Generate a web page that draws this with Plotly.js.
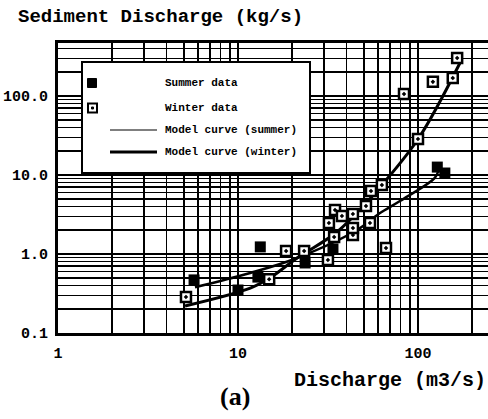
<!DOCTYPE html>
<html>
<head>
<meta charset="utf-8">
<script src="https://cdn.plot.ly/plotly-3.0.1.min.js"></script>
<style>html,body{margin:0;padding:0;background:#fff;}#chart{width:488px;height:419px;}</style>
</head>
<body>
<div id="chart"></div>
<script>
// ---- data ----
const summerQ = [5.7, 10, 12.9, 13.3, 23.6, 33.7, 128, 141];
const summerS = [0.47, 0.35, 0.51, 1.23, 0.77, 1.16, 12.6, 10.6];

const winterQ = [5.14, 14.9, 18.5, 23.3, 31.6, 32, 34.2, 34.6, 37.8, 43.5, 43.5, 43.5, 51.4, 54.1, 54.8, 63, 66.4, 83.6, 100, 121, 156, 165];
const winterS = [0.286, 0.48, 1.09, 1.09, 0.84, 2.47, 1.64, 3.6, 3.03, 1.74, 2.13, 3.21, 4.05, 2.47, 6.27, 7.47, 1.19, 106, 28.6, 151, 169, 302];

const modelSummerQ = [5.77, 11.7, 21.3, 45.8, 61.5, 79.4, 124, 130];
const modelSummerS = [0.38, 0.575, 0.89, 2.01, 3.30, 4.69, 9.2, 11.5];

const modelWinterQ = [5.08, 11.7, 15.1, 21.3, 35.5, 52.1, 63.1, 101, 171];
const modelWinterS = [0.22, 0.37, 0.50, 0.89, 1.90, 4.55, 7.47, 29.4, 262];

const xTickVals = [1, 10, 100];
const xTickText = ["1", "10", "100"];
const yTickVals = [0.1, 1, 10, 100];
const yTickText = ["0.1", "1.0", "10.0", "100.0"];
const minorMultipliers = [2, 3, 4, 5, 6, 7, 8, 9];
const xDecades = [1, 10, 100];
const yDecades = [0.1, 1, 10, 100];

const legendLabels = ["Summer data", "Winter data", "Model curve (summer)", "Model curve (winter)"];

// minor grid positions (2..9 in each decade)
const minorPos = decs => decs.flatMap(d => minorMultipliers.map(m => +(d * m).toPrecision(3)));

// ---- layout helpers (pixel -> paper) ----
const W = 488, H = 419, ML = 58, MT = 43, MR = 0, MB = 86;
const PW = W - ML - MR, PH = H - MT - MB;
const px = v => (v - ML) / PW;
const py = v => (H - MB - v) / PH;

const mono = "Liberation Mono, Courier New, monospace";

const traces = [
  {x: modelSummerQ, y: modelSummerS, mode: 'lines', line: {color: '#000', width: 2.5, shape: 'spline', smoothing: 1}, hoverinfo: 'skip', showlegend: false},
  {x: modelWinterQ, y: modelWinterS, mode: 'lines', line: {color: '#000', width: 3, shape: 'spline', smoothing: 1}, hoverinfo: 'skip', showlegend: false},
  {x: summerQ, y: summerS, mode: 'markers', marker: {symbol: 'square', size: 11, color: '#000', line: {width: 0}}, showlegend: false},
  {x: winterQ, y: winterS, mode: 'markers', marker: {symbol: 'square-dot', size: 10, color: '#fff', line: {color: '#000', width: 2.5}}, showlegend: false}
];

// custom legend box
const shapes = [
  {type: 'rect', xref: 'paper', yref: 'paper', x0: px(82), x1: px(310), y0: py(173), y1: py(62), fillcolor: '#fff', line: {color: '#000', width: 2}, layer: 'above'},
  {type: 'rect', xref: 'paper', yref: 'paper', x0: px(87.5), x1: px(96.5), y0: py(87.5), y1: py(78.5), fillcolor: '#000', line: {color: '#000', width: 1}, layer: 'above'},
  {type: 'rect', xref: 'paper', yref: 'paper', x0: px(88), x1: px(97), y0: py(112.5), y1: py(103.5), fillcolor: '#fff', line: {color: '#000', width: 2}, layer: 'above'},
  {type: 'rect', xref: 'paper', yref: 'paper', x0: px(91.5), x1: px(93.5), y0: py(109), y1: py(107), fillcolor: '#000', line: {color: '#000', width: 1}, layer: 'above'},
  {type: 'line', xref: 'paper', yref: 'paper', x0: px(110), x1: px(157), y0: py(130), y1: py(130), line: {color: '#000', width: 1.2}, layer: 'above'},
  {type: 'line', xref: 'paper', yref: 'paper', x0: px(110), x1: px(157), y0: py(152), y1: py(152), line: {color: '#000', width: 3}, layer: 'above'}
];

const legY = [83, 108, 130, 152];
const annotations = legendLabels.map((t, i) => ({
  text: t, xref: 'paper', yref: 'paper', x: px(163), y: py(legY[i]), xanchor: 'left', yanchor: 'middle',
  showarrow: false, font: {family: mono, size: 11, color: '#000', weight: 700}
}));
annotations.push(
  {text: 'Sediment Discharge (kg/s)', xref: 'paper', yref: 'paper', x: px(16), y: py(17), xanchor: 'left', yanchor: 'middle', showarrow: false, font: {family: mono, size: 19, color: '#000', weight: 700}},
  {text: 'Discharge (m3/s)', xref: 'paper', yref: 'paper', x: px(488), y: py(380), xanchor: 'right', yanchor: 'middle', showarrow: false, font: {family: mono, size: 20, color: '#000', weight: 700}},
  {text: '(a)', xref: 'paper', yref: 'paper', x: px(235), y: py(396), xanchor: 'center', yanchor: 'middle', showarrow: false, font: {family: 'Liberation Serif, Times New Roman, serif', size: 26, color: '#000', weight: 700}}
);

const layout = {
  width: W, height: H,
  margin: {l: ML, r: MR, t: MT, b: MB, pad: 0},
  paper_bgcolor: '#fff', plot_bgcolor: '#fff',
  showlegend: false,
  xaxis: {
    type: 'log', range: [0, PW / 180],
    tickmode: 'array', tickvals: xTickVals, ticktext: xTickText, ticks: '', ticklabelstandoff: 4,
    tickfont: {family: mono, size: 15, color: '#000', weight: 700},
    showgrid: true, gridcolor: '#000', gridwidth: 2,
    minor: {tickmode: 'array', tickvals: minorPos(xDecades), showgrid: true, gridcolor: '#000', gridwidth: 1.5, ticks: ''},
    showline: true, linecolor: '#000', linewidth: 3, mirror: true, zeroline: false
  },
  yaxis: {
    type: 'log', range: [-1.0, 2.671],
    tickmode: 'array', tickvals: yTickVals, ticktext: yTickText, ticks: '', ticklabelstandoff: 4,
    tickfont: {family: mono, size: 15, color: '#000', weight: 700},
    showgrid: true, gridcolor: '#000', gridwidth: 2,
    minor: {tickmode: 'array', tickvals: minorPos(yDecades), showgrid: true, gridcolor: '#000', gridwidth: 1.5, ticks: ''},
    showline: true, linecolor: '#000', linewidth: 3, mirror: false, zeroline: false
  },
  shapes: shapes,
  annotations: annotations
};

Plotly.newPlot('chart', traces, layout, {displayModeBar: false, staticPlot: true});
</script>
</body>
</html>
